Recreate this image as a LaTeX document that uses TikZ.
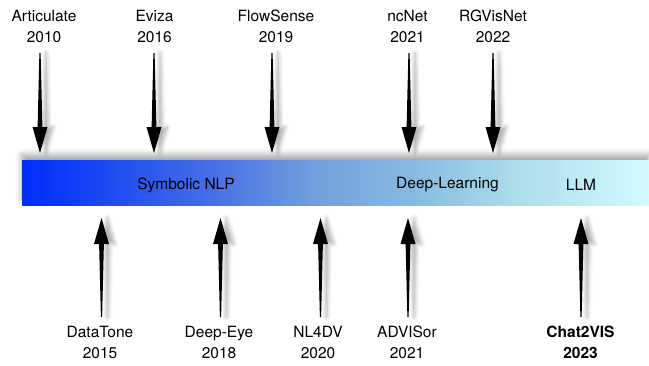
\documentclass[tikz,border=0pt]{standalone}
\usepackage{fontspec}
\setmainfont{TeX Gyre Heros}
\usetikzlibrary{calc,shadows.blur}
\definecolor{c0}{RGB}{0,45,255}
\definecolor{c1}{RGB}{20,65,245}
\definecolor{c2}{RGB}{70,110,230}
\definecolor{c3}{RGB}{115,160,220}
\definecolor{c4}{RGB}{135,185,225}
\definecolor{c5}{RGB}{170,220,235}
\definecolor{c6}{RGB}{210,250,255}
\pgfdeclarehorizontalshading{barshade}{100bp}{color(0bp)=(c0); color(25bp)=(c0); color(30bp)=(c1); color(40bp)=(c2); color(48.5bp)=(c3); color(56bp)=(c4); color(64bp)=(c5); color(75bp)=(c6); color(100bp)=(c6)}
\tikzset{
  lbl/.style={align=center, font=\fontsize{15.5}{21}\selectfont, inner sep=0pt},
  bartext/.style={font=\fontsize{15.5}{21}\selectfont, inner sep=0pt},
  barbox/.style={shading=barshade, draw=none, minimum width=627pt, minimum height=44.3pt, inner sep=0pt,
     blur shadow={shadow xshift=0pt, shadow yshift=6pt, shadow blur radius=6pt, shadow opacity=35}},
  bigarrow/.style={fill=black, draw=none,
     blur shadow={shadow xshift=6pt, shadow yshift=0pt, shadow blur radius=4pt, shadow opacity=30}}
}
\newcommand\fatarrow[2]{%
  \path[bigarrow] let \p1=(#1), \p2=(#2), \n1={ifthenelse(\y1>\y2,1,-1)} in
    (\x1-0.6pt,\y1) -- (\x2-2.4pt,\y2+\n1*26pt) -- (\x2-7.5pt,\y2+\n1*26pt) -- (\x2,\y2)
    -- (\x2+7.5pt,\y2+\n1*26pt) -- (\x2+2.4pt,\y2+\n1*26pt) -- (\x1+0.6pt,\y1) -- cycle;}
\begin{document}
\begin{tikzpicture}[x=1pt,y=-1pt]
\useasboundingbox (0,0) rectangle (649,365);
% bar
\node[barbox] (bar) at (335.5,182.85) {};
\node[bartext] (sym) at (186,185) {Symbolic NLP};
\node[bartext] (dl) at (447.5,185) {Deep-Learning};
\node[bartext] (llm) at (581,185) {LLM};
% top labels
\node[lbl] (art) at (44,26.2) {Articulate\\2010};
\node[lbl] (evi) at (154.5,26.2) {Eviza\\2016};
\node[lbl] (flo) at (276,26.2) {FlowSense\\2019};
\node[lbl] (ncn) at (407.5,26.2) {ncNet\\2021};
\node[lbl] (rgv) at (493,26.2) {RGVisNet\\2022};
% bottom labels
\node[lbl] (dat) at (100,342.7) {DataTone\\2015};
\node[lbl] (dee) at (219,342.7) {Deep-Eye\\2018};
\node[lbl] (nl4) at (318,342.7) {NL4DV\\2020};
\node[lbl] (adv) at (407,342.7) {ADVISor\\2021};
\node[lbl,font=\fontsize{15.5}{21}\selectfont\bfseries] (cha) at (580.5,342.7) {Chat2VIS\\2023};
% arrow end points
\foreach \nm/\xx in {a1/40,a2/154,a3/272,a4/409,a5/493}{
  \coordinate (\nm t) at (\xx,53);
  \coordinate (\nm h) at (\xx,153);
}
\foreach \nm/\xx in {b1/101.5,b2/220.5,b3/320.5,b4/408,b5/581}{
  \coordinate (\nm t) at (\xx,317);
  \coordinate (\nm h) at (\xx,218);
}
\foreach \nm in {a1,a2,a3,a4,a5,b1,b2,b3,b4,b5}{
  \fatarrow{\nm t}{\nm h}
}
\end{tikzpicture}
\end{document}
